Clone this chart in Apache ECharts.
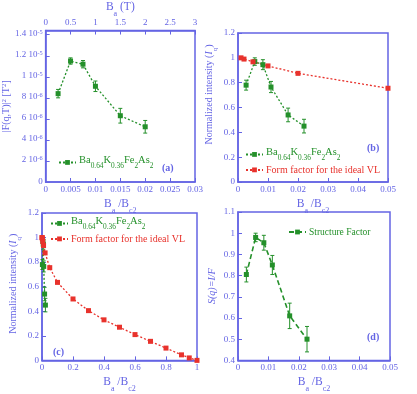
<!DOCTYPE html>
<html><head><meta charset="utf-8">
<script src="https://cdn.jsdelivr.net/npm/echarts@6/dist/echarts.min.js"></script>
<style>html,body{margin:0;padding:0;background:#fff}#c{width:417px;height:394px}</style>
</head><body><div id="c"></div>
<script>
// ---------- data ----------
const aX = [0.0025, 0.005, 0.0075, 0.01, 0.015, 0.02];
const aY = [8.4e-6, 1.15e-5, 1.12e-5, 9.1e-6, 6.3e-6, 5.25e-6];
const aErr = [0.4e-6, 0.3e-6, 0.35e-6, 0.5e-6, 0.7e-6, 0.6e-6];

const bGreenX = [0.0027, 0.0056, 0.0083, 0.011, 0.0167, 0.022];
const bGreenY = [0.78, 0.97, 0.945, 0.765, 0.54, 0.45];
const bGreenErr = [0.04, 0.03, 0.04, 0.045, 0.055, 0.055];
const bRedX = [0.001, 0.002, 0.005, 0.01, 0.02, 0.05];
const bRedY = [1.0, 0.99, 0.968, 0.935, 0.875, 0.755];

const cRedX = [0, 0.001, 0.002, 0.005, 0.01, 0.02, 0.05, 0.1, 0.2, 0.3, 0.4, 0.5, 0.6, 0.7, 0.8, 0.9, 0.95, 1];
const cRedY = [1.0, 1.0, 0.99, 0.968, 0.935, 0.875, 0.755, 0.635, 0.5, 0.405, 0.33, 0.27, 0.21, 0.155, 0.1, 0.045, 0.02, 0.0];

const dX = [0.00275, 0.0058, 0.0085, 0.0113, 0.017, 0.0227];
const dY = [0.805, 0.98, 0.955, 0.85, 0.61, 0.5];
const dErr = [0.035, 0.02, 0.035, 0.045, 0.06, 0.06];

const NAME_BA = 'Ba0.64K0.36Fe2As2';
const NAME_FF = 'Form factor for the ideal VL';
const NAME_SF = 'Structure Factor';

// ---------- styles ----------
const BLUE = '#6464e4', GREEN = '#24902a', RED = '#e8322c';
const FONT = 'Liberation Serif';

const richName = (color, size) => ({
  n: {fontFamily: FONT, fontSize: size, color: color, verticalAlign: 'top'},
  s: {fontFamily: FONT, fontSize: size * 0.7, color: color, padding: [size * 0.75, 0, 0, 0]},
  p: {fontFamily: FONT, fontSize: size * 0.7, color: color, padding: [0, 0, size * 0.55, 0], verticalAlign: 'top'},
  i: {fontFamily: FONT, fontSize: size, color: color, fontStyle: 'italic', verticalAlign: 'top'}
});
const BBC = '{n|B}{s|a}{n| /B}{s|c2}';
const LBL = {color: BLUE, fontSize: 9, fontFamily: FONT, margin: 3};

function xAx(gi, min, max, intv, name, extra) {
  return Object.assign({
    gridIndex: gi, type: 'value', min: min, max: max, interval: intv,
    axisLine: {onZero: false, lineStyle: {color: BLUE, width: 1.5}},
    axisTick: {inside: true, length: 4, lineStyle: {color: BLUE}},
    axisLabel: Object.assign({formatter: v => String(+v.toFixed(4))}, LBL),
    splitLine: {show: false},
    name: name, nameLocation: 'middle', nameGap: 16,
    nameTextStyle: {rich: richName(BLUE, 11.5)}
  }, extra || {});
}
function yAx(gi, min, max, intv, name, gap, labelExtra, nameExtra) {
  return {
    gridIndex: gi, type: 'value', min: min, max: max, interval: intv,
    axisLine: {onZero: false, lineStyle: {color: BLUE, width: 1.5}},
    axisTick: {inside: true, length: 4, lineStyle: {color: BLUE}},
    axisLabel: Object.assign({showMaxLabel: true, formatter: v => String(+v.toFixed(2))}, LBL, labelExtra || {}),
    splitLine: {show: false},
    name: name, nameLocation: 'middle', nameGap: gap, nameRotate: 90,
    nameTextStyle: Object.assign({rich: richName(BLUE, 10)}, nameExtra || {})
  };
}
function sciFmt(v) {
  if (Math.abs(v) < 1e-12) return '{n|0}';
  const e = Math.floor(Math.log10(v) + 1e-9);
  const m = +(v / Math.pow(10, e)).toFixed(2);
  return '{n|' + m + ' 10}{p|' + e + '}';
}
function lineS(name, xs, ys, xi, yi, color, type, width) {
  return {
    type: 'line', name: name, xAxisIndex: xi, yAxisIndex: yi,
    data: xs.map((x, i) => [x, ys[i]]),
    symbol: 'rect', symbolSize: 5, showSymbol: true,
    lineStyle: {color: color, type: type, width: width || 1.3},
    itemStyle: {color: color}, z: 3, animation: false
  };
}
function errS(xs, ys, es, xi, yi, color) {
  return {
    type: 'custom', xAxisIndex: xi, yAxisIndex: yi, silent: true, z: 2, animation: false,
    encode: {x: 0, y: [1, 2]},
    data: xs.map((x, i) => [x, ys[i] - es[i], ys[i] + es[i]]),
    renderItem: (p, api) => {
      const lo = api.coord([api.value(0), api.value(1)]);
      const hi = api.coord([api.value(0), api.value(2)]);
      const w = 2, st = {stroke: color, lineWidth: 1};
      return {type: 'group', children: [
        {type: 'line', shape: {x1: lo[0], y1: lo[1], x2: hi[0], y2: hi[1]}, style: st},
        {type: 'line', shape: {x1: lo[0] - w, y1: lo[1], x2: lo[0] + w, y2: lo[1]}, style: st},
        {type: 'line', shape: {x1: hi[0] - w, y1: hi[1], x2: hi[0] + w, y2: hi[1]}, style: st}
      ]};
    }
  };
}
const legRich = Object.assign(richName(GREEN, 10.5), {
  red: {fontFamily: FONT, fontSize: 10, color: RED},
  sf: {fontFamily: FONT, fontSize: 9.5, color: GREEN}
});
const legFmt = n => n === NAME_BA ? '{n|Ba}{s|0.64}{n|K}{s|0.36}{n|Fe}{s|2}{n|As}{s|2}'
  : (n === NAME_FF ? '{red|' + n + '}' : '{sf|' + n + '}');
function leg(left, top, data) {
  return {left: left, top: top, orient: 'vertical', data: data, itemWidth: 17, itemHeight: 6,
    itemGap: 3, padding: 0, selectedMode: false, formatter: legFmt,
    textStyle: {fontFamily: FONT, rich: legRich, padding: [0, 0, 0, -2]}};
}

const chart = echarts.init(document.getElementById('c'), null, {renderer: 'canvas'});
const gridBase = {show: true, borderColor: BLUE, borderWidth: 1.5, backgroundColor: 'transparent', containLabel: false};

chart.setOption({
  backgroundColor: '#fff',
  animation: false,
  textStyle: {fontFamily: FONT},
  grid: [
    Object.assign({left: 43, top: 28, width: 152, height: 154}, gridBase),
    Object.assign({left: 238, top: 33, width: 150, height: 149}, gridBase),
    Object.assign({left: 42, top: 213, width: 155, height: 150}, gridBase),
    Object.assign({left: 238, top: 212, width: 152, height: 152}, gridBase)
  ],
  xAxis: [
    xAx(0, 0, 0.03, 0.005, BBC),
    xAx(0, 0, 3, 0.5, '{n|B}{s|a}{n| (T)}', {position: 'top', nameGap: 11,
      axisLabel: Object.assign({formatter: v => String(v)}, LBL)}),
    xAx(1, 0, 0.05, 0.01, BBC),
    xAx(2, 0, 1, 0.2, BBC, {axisLabel: Object.assign({formatter: v => String(+v.toFixed(1))}, LBL)}),
    xAx(3, 0, 0.05, 0.01, BBC)
  ],
  yAxis: [
    yAx(0, 0, 1.44e-5, 2e-6, '{n||F(q,T)|}{p|2}{n| [T}{p|2}{n|]}', 32,
      {showMaxLabel: false, formatter: sciFmt, rich: richName(BLUE, 9)}),
    yAx(1, 0, 1.2, 0.2, '{n|Normalized intensity (}{i|I}{s|q}{n|)}', 19, null, {padding: [0, 0, 0, 26]}),
    yAx(2, 0, 1.2, 0.2, '{n|Normalized intensity (}{i|I}{s|q}{n|)}', 19, null, {padding: [0, 0, 0, 6]}),
    yAx(3, 0.4, 1.1, 0.1, '{i|S(q)=I/F}', 21, {formatter: v => String(+v.toFixed(1))})
  ],
  legend: [
    leg(58, 155, [NAME_BA]),
    leg(245, 147, [NAME_BA, NAME_FF]),
    leg(50, 216, [NAME_BA, NAME_FF]),
    leg(288, 227, [NAME_SF])
  ],
  series: [
    errS(aX, aY, aErr, 0, 0, GREEN),
    lineS(NAME_BA, aX, aY, 0, 0, GREEN, [2, 2]),
    errS(bGreenX, bGreenY, bGreenErr, 2, 1, GREEN),
    lineS(NAME_BA, bGreenX, bGreenY, 2, 1, GREEN, [2, 2]),
    lineS(NAME_FF, bRedX, bRedY, 2, 1, RED, [2, 2]),
    errS(bGreenX, bGreenY, bGreenErr, 3, 2, GREEN),
    lineS(NAME_BA, bGreenX, bGreenY, 3, 2, GREEN, [2, 2]),
    lineS(NAME_FF, cRedX, cRedY, 3, 2, RED, [2, 2]),
    errS(dX, dY, dErr, 4, 3, GREEN),
    lineS(NAME_SF, dX, dY, 4, 3, GREEN, [5, 3], 1.6)
  ],
  graphic: [
    {type: 'text', left: 162, top: 163, style: {text: '(a)', fill: BLUE, font: 'bold 10px "Liberation Serif"'}},
    {type: 'text', left: 367, top: 143, style: {text: '(b)', fill: BLUE, font: 'bold 10px "Liberation Serif"'}},
    {type: 'text', left: 53, top: 347, style: {text: '(c)', fill: BLUE, font: 'bold 10px "Liberation Serif"'}},
    {type: 'text', left: 367, top: 332, style: {text: '(d)', fill: BLUE, font: 'bold 10px "Liberation Serif"'}}
  ]
});
</script></body></html>
